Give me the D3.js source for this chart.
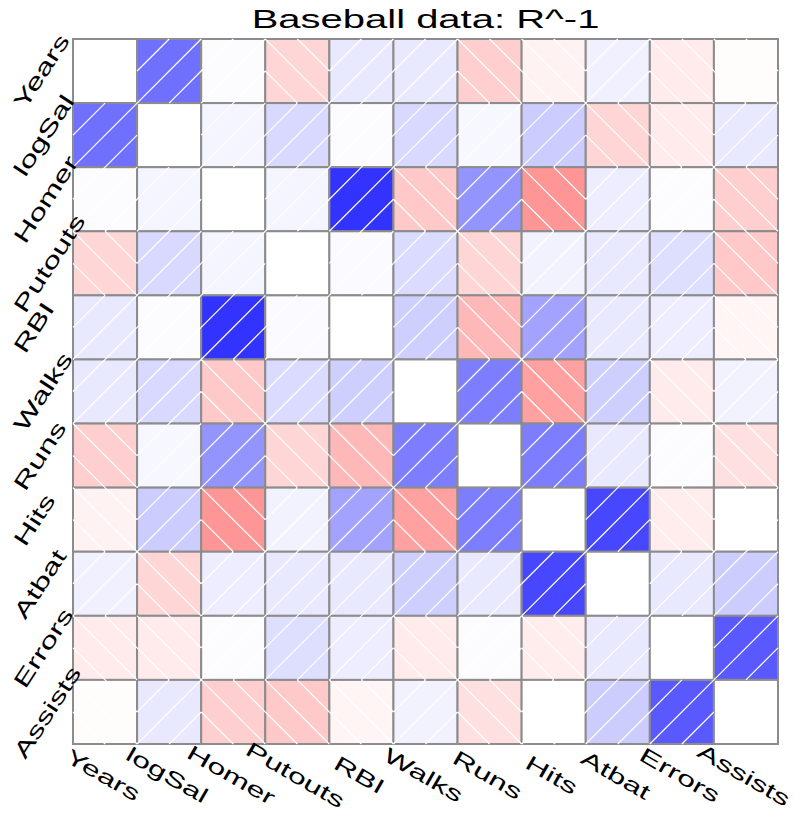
<!DOCTYPE html>
<html><head><meta charset="utf-8">
<script src="https://cdn.jsdelivr.net/npm/d3@7"></script>
<style>body{margin:0;background:#fff}</style>
</head><body>
<svg id="chart" width="794" height="816"></svg>
<script>
const variables = ["Years","logSal","Homer","Putouts","RBI","Walks","Runs","Hits","Atbat","Errors","Assists"];
const rowYears   = [ 1.00, 0.56, 0.01,-0.16, 0.09, 0.09,-0.19,-0.05, 0.06,-0.08,-0.01];
const rowLogSal  = [ 0.56, 1.00, 0.04, 0.15, 0.01, 0.15, 0.03, 0.20,-0.16,-0.08, 0.09];
const rowHomer   = [ 0.01, 0.04, 1.00, 0.04, 0.80,-0.21, 0.42,-0.41, 0.07, 0.01,-0.19];
const rowPutouts = [-0.16, 0.15, 0.04, 1.00, 0.02, 0.14,-0.16, 0.05, 0.09, 0.13,-0.21];
const rowRBI     = [ 0.09, 0.01, 0.80, 0.02, 1.00, 0.19,-0.28, 0.36, 0.09, 0.07,-0.04];
const rowWalks   = [ 0.09, 0.15,-0.21, 0.14, 0.19, 1.00, 0.51,-0.37, 0.19,-0.08, 0.05];
const rowRuns    = [-0.19, 0.03, 0.42,-0.16,-0.28, 0.51, 1.00, 0.51, 0.09, 0.01,-0.12];
const rowHits    = [-0.05, 0.20,-0.41, 0.05, 0.36,-0.37, 0.51, 1.00, 0.72,-0.07, 0.00];
const rowAtbat   = [ 0.06,-0.16, 0.07, 0.09, 0.09, 0.19, 0.09, 0.72, 1.00, 0.09, 0.20];
const rowErrors  = [-0.08,-0.08, 0.01, 0.13, 0.07,-0.08, 0.01,-0.07, 0.09, 1.00, 0.65];
const rowAssists = [-0.01, 0.09,-0.19,-0.21,-0.04, 0.05,-0.12, 0.00, 0.20, 0.65, 1.00];
const matrix = [rowYears,rowLogSal,rowHomer,rowPutouts,rowRBI,rowWalks,rowRuns,rowHits,rowAtbat,rowErrors,rowAssists];
const titleText = "Baseball data: R^-1";

(function draw() {
const svg = d3.select("#chart");
const gLeft = 73, gRight = 778, gTop = 39, gBottom = 744;
const x = d3.scaleBand().domain(d3.range(variables.length)).range([gLeft, gRight]).paddingInner(0);
const y = d3.scaleBand().domain(d3.range(variables.length)).range([gTop, gBottom]).paddingInner(0);
const color = d3.scaleLinear().domain([-1, 0, 1]).range(["#ff0000", "#ffffff", "#0000ff"]).interpolate(d3.interpolateRgb);

const cells = [];
matrix.forEach((row, i) => row.forEach((v, j) => cells.push({i, j, v: i === j ? 0 : v, diag: i === j})));

svg.append("g").selectAll("rect").data(cells).join("rect")
  .attr("x", d => x(d.j)).attr("y", d => y(d.i))
  .attr("width", x.bandwidth()).attr("height", y.bandwidth())
  .attr("fill", d => color(d.v))
  .attr("stroke", "#8c8c8c").attr("stroke-width", 2);

const hatch = svg.append("g").attr("stroke", "#ffffff").attr("stroke-width", 1.2).attr("fill", "none");
cells.filter(d => !d.diag).forEach(d => {
  const x0 = x(d.j), y0 = y(d.i), w = x.bandwidth(), h = y.bandwidth();
  let segs;
  if (d.v >= 0) {
    segs = [[x0, y0 + h/2, x0 + w/2, y0], [x0, y0 + h, x0 + w, y0], [x0 + w/2, y0 + h, x0 + w, y0 + h/2]];
  } else {
    segs = [[x0 + w/2, y0, x0 + w, y0 + h/2], [x0, y0, x0 + w, y0 + h], [x0, y0 + h/2, x0 + w/2, y0 + h]];
  }
  segs.forEach(s => hatch.append("line").attr("x1", s[0]).attr("y1", s[1]).attr("x2", s[2]).attr("y2", s[3]));
});

const font = "'Liberation Sans', Arial, sans-serif";
svg.append("text").attr("transform", `translate(${(gLeft+gRight)/2},28) scale(1.6,1)`)
  .attr("text-anchor", "middle").attr("font-family", font).attr("font-size", 25).attr("fill", "#000")
  .text(titleText);

// left labels: left-aligned at x, vertically centred on their row
const fsL = 22, sxL = 1.5, angL = 57 * Math.PI / 180, capH = 0.716 * fsL;
svg.append("g").selectAll("text").data(variables).join("text")
  .attr("text-anchor", "start")
  .attr("font-family", font).attr("font-size", fsL).attr("fill", "#000")
  .text(d => d)
  .each(function(d, i) {
    const L = this.getComputedTextLength() * sxL;
    const bx = 12 + capH * Math.sin(angL);
    const by = y(i) + y.bandwidth()/2 + (capH * Math.cos(angL) + L * Math.sin(angL)) / 2;
    d3.select(this).attr("transform", `translate(${bx},${by}) rotate(-57) scale(${sxL},1)`);
  });

// bottom labels: centred under their column
svg.append("g").selectAll("text").data(variables).join("text")
  .attr("transform", (d, i) => `translate(${x(i) + x.bandwidth()/2 - 2},775) rotate(30) scale(1.55,1)`)
  .attr("text-anchor", "middle").attr("dominant-baseline", "central")
  .attr("font-family", font).attr("font-size", 21).attr("fill", "#000")
  .text(d => d);
})();
</script>
</body></html>
